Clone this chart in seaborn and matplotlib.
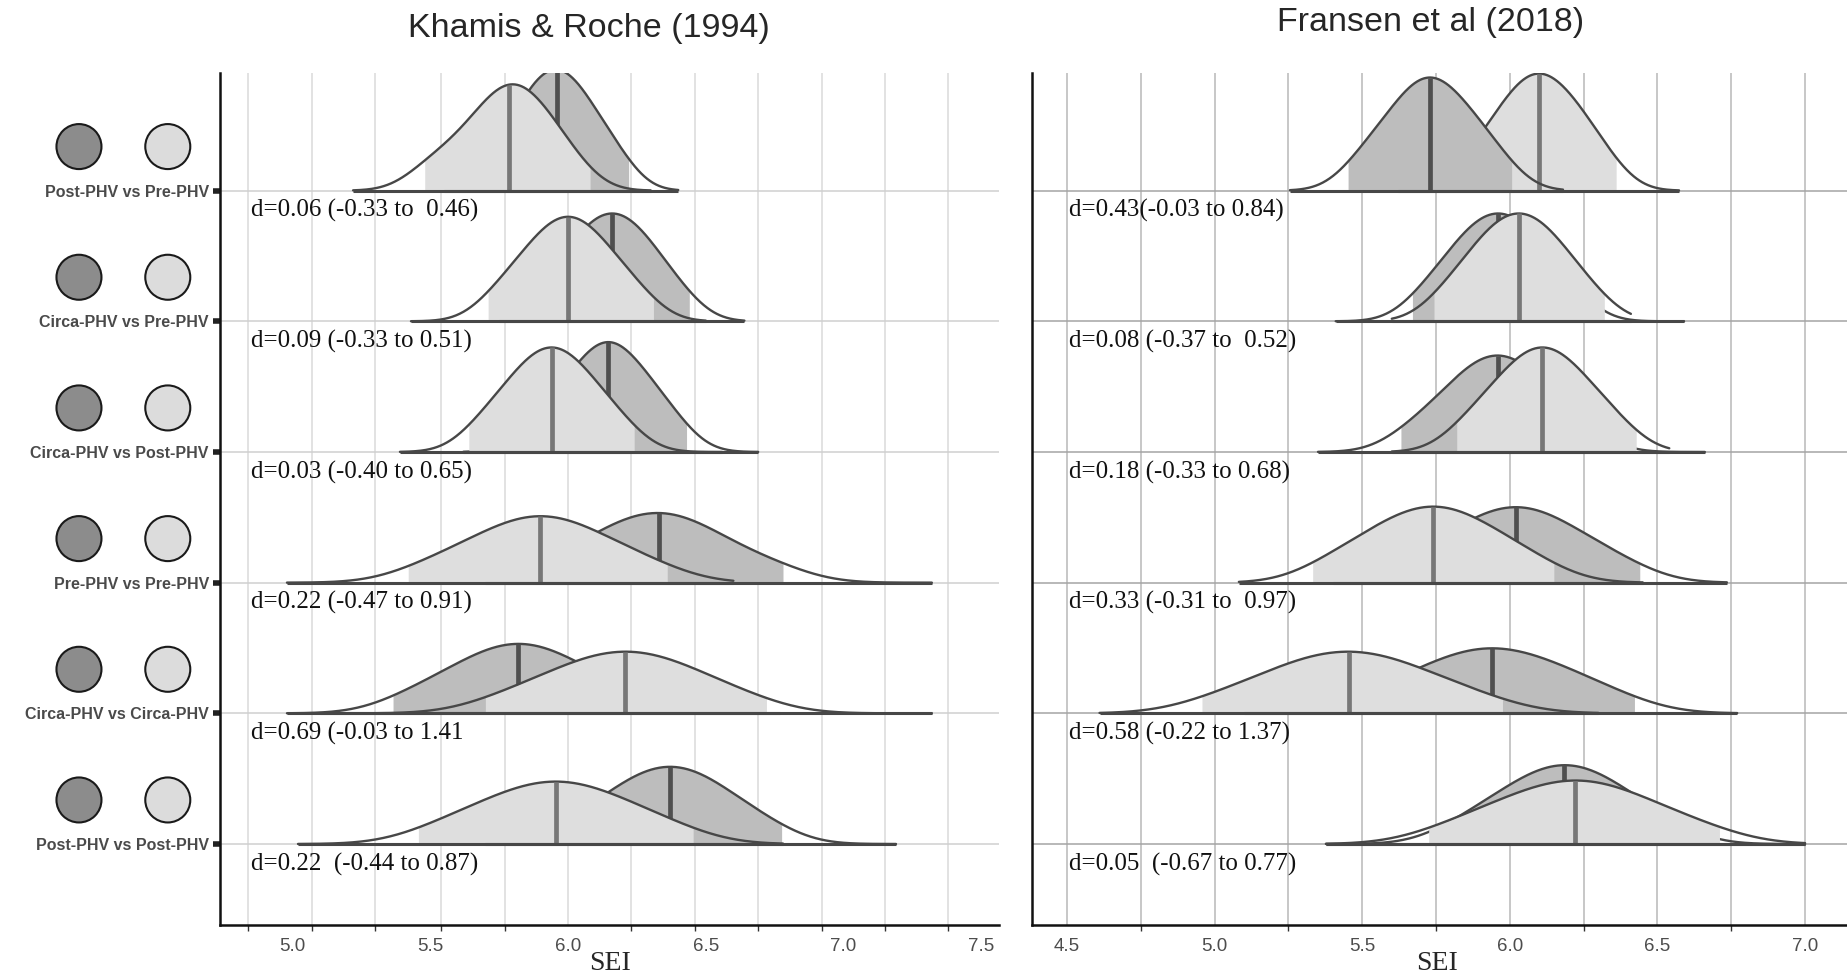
import numpy as np
import matplotlib.pyplot as plt
import matplotlib.transforms as mtransforms
import seaborn as sns

sns.set_style('white')
plt.rcParams['font.family'] = ['Liberation Sans', 'DejaVu Sans']

row_labels = ['Post-PHV vs Pre-PHV', 'Circa-PHV vs Pre-PHV', 'Circa-PHV vs Post-PHV',
              'Pre-PHV vs Pre-PHV', 'Circa-PHV vs Circa-PHV', 'Post-PHV vs Post-PHV']

# ---- Khamis & Roche (1994): posterior SEI deciles per comparison row ----
kr_dark = [
    [5.75, 5.83, 5.87, 5.91, 5.94, 5.98, 6.01, 6.05, 6.10, 6.18],
    [5.92, 6.01, 6.06, 6.10, 6.14, 6.18, 6.22, 6.26, 6.31, 6.40],
    [5.90, 5.99, 6.05, 6.09, 6.13, 6.16, 6.20, 6.24, 6.30, 6.38],
    [5.97, 6.10, 6.18, 6.25, 6.30, 6.36, 6.42, 6.49, 6.57, 6.74],
    [5.44, 5.58, 5.67, 5.73, 5.79, 5.85, 5.91, 5.97, 6.06, 6.20],
    [6.03, 6.16, 6.23, 6.29, 6.34, 6.40, 6.45, 6.51, 6.58, 6.71],
]
kr_light = [
    [5.50, 5.61, 5.68, 5.73, 5.77, 5.80, 5.84, 5.88, 5.93, 6.01],
    [5.75, 5.84, 5.90, 5.94, 5.98, 6.02, 6.06, 6.10, 6.16, 6.25],
    [5.69, 5.78, 5.84, 5.88, 5.92, 5.96, 6.00, 6.04, 6.10, 6.19],
    [5.50, 5.65, 5.74, 5.81, 5.87, 5.93, 5.99, 6.06, 6.15, 6.30],
    [5.78, 5.94, 6.03, 6.11, 6.17, 6.24, 6.31, 6.38, 6.47, 6.63],
    [5.54, 5.69, 5.78, 5.86, 5.92, 5.99, 6.05, 6.13, 6.22, 6.37],
]
kr_dark_ci = [(5.70, 6.22), (5.88, 6.44), (5.86, 6.43), (5.90, 6.78), (5.365, 6.27), (5.97, 6.775)]
kr_light_ci = [(5.48, 6.08), (5.71, 6.31), (5.64, 6.24), (5.42, 6.36), (5.70, 6.72), (5.457, 6.454)]
kr_dark_range = [(5.55, 6.40), (5.75, 6.64), (5.62, 6.69), (5.70, 7.32), (4.98, 6.77), (5.70, 7.19)]
kr_light_range = [(5.22, 6.30), (5.43, 6.50), (5.39, 6.56), (4.98, 6.60), (5.10, 7.32), (5.02, 6.78)]
kr_d = ['d=0.06 (-0.33 to  0.46)', 'd=0.09 (-0.33 to 0.51)', 'd=0.03 (-0.40 to 0.65)',
        'd=0.22 (-0.47 to 0.91)', 'd=0.69 (-0.03 to 1.41', 'd=0.22  (-0.44 to 0.87)']
kr_ticks = [5.0, 5.5, 6.0, 6.5, 7.0, 7.5]
kr_grid = [4.84, 5.07, 5.30, 5.54, 5.77, 6.00, 6.23, 6.46, 6.69, 6.92, 7.15, 7.38]
kr_light_on_top = [True, True, True, True, True, True]

# ---- Fransen et al (2018) ----
fr_dark = [
    [5.50, 5.58, 5.64, 5.68, 5.71, 5.75, 5.78, 5.83, 5.88, 5.96],
    [5.72, 5.81, 5.86, 5.90, 5.94, 5.98, 6.02, 6.06, 6.11, 6.20],
    [5.68, 5.79, 5.85, 5.89, 5.94, 5.98, 6.02, 6.07, 6.13, 6.23],
    [5.67, 5.80, 5.88, 5.94, 5.99, 6.05, 6.10, 6.16, 6.24, 6.37],
    [5.54, 5.69, 5.78, 5.85, 5.91, 5.97, 6.04, 6.11, 6.20, 6.34],
    [5.85, 5.97, 6.05, 6.10, 6.16, 6.21, 6.26, 6.32, 6.39, 6.51],
]
fr_light = [
    [5.88, 5.96, 6.01, 6.05, 6.08, 6.12, 6.15, 6.20, 6.24, 6.32],
    [5.79, 5.88, 5.93, 5.97, 6.01, 6.05, 6.09, 6.13, 6.18, 6.27],
    [5.86, 5.95, 6.01, 6.05, 6.09, 6.13, 6.17, 6.21, 6.27, 6.36],
    [5.40, 5.52, 5.60, 5.66, 5.71, 5.77, 5.82, 5.88, 5.96, 6.08],
    [5.03, 5.19, 5.28, 5.35, 5.42, 5.49, 5.55, 5.63, 5.72, 5.88],
    [5.81, 5.96, 6.05, 6.13, 6.19, 6.25, 6.32, 6.39, 6.48, 6.64],
]
fr_dark_ci = [(5.452, 6.006), (5.67, 6.25), (5.631, 6.29), (5.60, 6.44), (5.46, 6.422), (5.79, 6.57)]
fr_light_ci = [(5.84, 6.36), (5.743, 6.32), (5.82, 6.428), (5.332, 6.149), (4.957, 5.975), (5.725, 6.71)]
fr_dark_range = [(5.255, 6.18), (5.41, 6.59), (5.35, 6.66), (5.40, 6.735), (5.10, 6.77), (5.377, 7.0)]
fr_light_range = [(5.62, 6.573), (5.60, 6.41), (5.60, 6.54), (5.082, 6.45), (4.61, 6.30), (5.377, 7.0)]
fr_d = ['d=0.43(-0.03 to 0.84)', 'd=0.08 (-0.37 to  0.52)', 'd=0.18 (-0.33 to 0.68)',
        'd=0.33 (-0.31 to  0.97)', 'd=0.58 (-0.22 to 1.37)', 'd=0.05  (-0.67 to 0.77)']
fr_ticks = [4.5, 5.0, 5.5, 6.0, 6.5, 7.0]
fr_grid = [4.5, 4.75, 5.0, 5.25, 5.5, 5.75, 6.0, 6.25, 6.5, 6.75, 7.0]
fr_light_on_top = [False, True, True, True, True, True]

EDGE = '#474747'
DARK_FILL, LIGHT_FILL = '#bdbdbd', '#dedede'
DARK_MED, LIGHT_MED = '#4f4f4f', '#777777'
SCALE = 0.36  # row units per unit of density


def ridge(ax, vals, ci, rng, base, fill, med_col, z):
    sns.kdeplot(x=vals, ax=ax, bw_adjust=1.0, cut=10, clip=rng, gridsize=400,
                color=EDGE, lw=1.7, zorder=z + 0.2)
    line = ax.lines[-1]
    x, y = line.get_data()
    x = np.asarray(x)
    y = base + SCALE * np.asarray(y)
    line.set_ydata(y)
    xs = np.linspace(ci[0], ci[1], 300)
    ax.fill_between(xs, base, np.interp(xs, x, y), color=fill, lw=0, zorder=z)
    m = np.median(vals)
    ax.plot([m, m], [base, np.interp(m, x, y)], color=med_col, lw=3.4,
            solid_capstyle='butt', zorder=z + 0.3)
    ax.plot(rng, [base, base], color=EDGE, lw=2.2, solid_capstyle='butt', zorder=6)


fig = plt.figure(figsize=(18.47, 9.80), dpi=100)
ax_kr = fig.add_axes([0.1191, 0.0561, 0.4218, 0.8694])
ax_fr = fig.add_axes([0.5587, 0.0561, 0.4413, 0.8694])

panels = [
    (ax_kr, kr_dark, kr_light, kr_dark_ci, kr_light_ci, kr_dark_range, kr_light_range,
     kr_d, kr_ticks, kr_grid, kr_light_on_top, (4.737, 7.564), '#dadada', '#cfcfcf', 0.040),
    (ax_fr, fr_dark, fr_light, fr_dark_ci, fr_light_ci, fr_dark_range, fr_light_range,
     fr_d, fr_ticks, fr_grid, fr_light_on_top, (4.381, 7.142), '#b8b8b8', '#a4a4a4', 0.045),
]

bases = [5, 4, 3, 2, 1, 0]

for (ax, dark, light, dci, lci, drng, lrng, dtxt, ticks, grid, light_top,
     xlim, grid_col, row_col, txt_x) in panels:
    trans = mtransforms.blended_transform_factory(ax.transAxes, ax.transData)
    ax.vlines(grid, -0.62, 5.90, color=grid_col, lw=1.1, zorder=0.5)
    for i, base in enumerate(bases):
        ax.axhline(base, color=row_col, lw=1.1, zorder=1)
        if light_top[i]:
            z_dark, z_light = 2, 3
        else:
            z_dark, z_light = 3, 2
        ridge(ax, dark[i], dci[i], drng[i], base, DARK_FILL, DARK_MED, z_dark)
        ridge(ax, light[i], lci[i], lrng[i], base, LIGHT_FILL, LIGHT_MED, z_light)
        ax.text(txt_x, base - 0.155, dtxt[i], transform=trans, va='center', ha='left',
                fontsize=18, family=['Liberation Serif'], color='#111111', zorder=7)
    ax.set_xlim(*xlim)
    ax.set_ylim(-0.62, 5.90)
    ax.set_xticks(ticks)
    ax.set_xticklabels([f'{t:.1f}' for t in ticks])
    ax.set_xticks(grid, minor=True)
    ax.tick_params(axis='x', which='major', length=0, pad=9, labelsize=13.5, labelcolor='#4d4d4d')
    ax.tick_params(axis='x', which='minor', length=4, width=1, color='#333333', bottom=True)
    ax.set_xlabel('')
    ax.set_ylabel('')
    for side in ['top', 'right']:
        ax.spines[side].set_visible(False)
    for side in ['left', 'bottom']:
        ax.spines[side].set_color('#111111')
        ax.spines[side].set_linewidth(1.8)
    ax.grid(False)

# y axis labels + legend circles on the left panel only
ax_kr.set_yticks(bases)
ax_kr.set_yticklabels(row_labels, fontsize=11.5, fontweight='bold', color='#4a4a4a')
ax_kr.tick_params(axis='y', length=5, width=4, color='#222222', pad=3, left=True)
ax_fr.set_yticks([])
trans_kr = mtransforms.blended_transform_factory(ax_kr.transAxes, ax_kr.transData)
for base in bases:
    ax_kr.scatter([-0.181, -0.067], [base + 0.337, base + 0.337], s=1050,
                  c=['#8c8c8c', '#dcdcdc'], edgecolors='#1a1a1a', linewidths=1.5,
                  transform=trans_kr, clip_on=False, zorder=10)

fig.text(589 / 1847, 1 - 28 / 980, 'Khamis & Roche (1994)', ha='center', va='center', fontsize=24.5)
fig.text(1431 / 1847, 1 - 22 / 980, 'Fransen et al (2018)', ha='center', va='center', fontsize=24.5)
fig.text(610 / 1847, 1 - 963 / 980, 'SEI', ha='center', va='center', fontsize=20,
         family=['Liberation Serif'])
fig.text(1437 / 1847, 1 - 963 / 980, 'SEI', ha='center', va='center', fontsize=20,
         family=['Liberation Serif'])

fig.savefig('out.png', dpi=100, facecolor='white')
